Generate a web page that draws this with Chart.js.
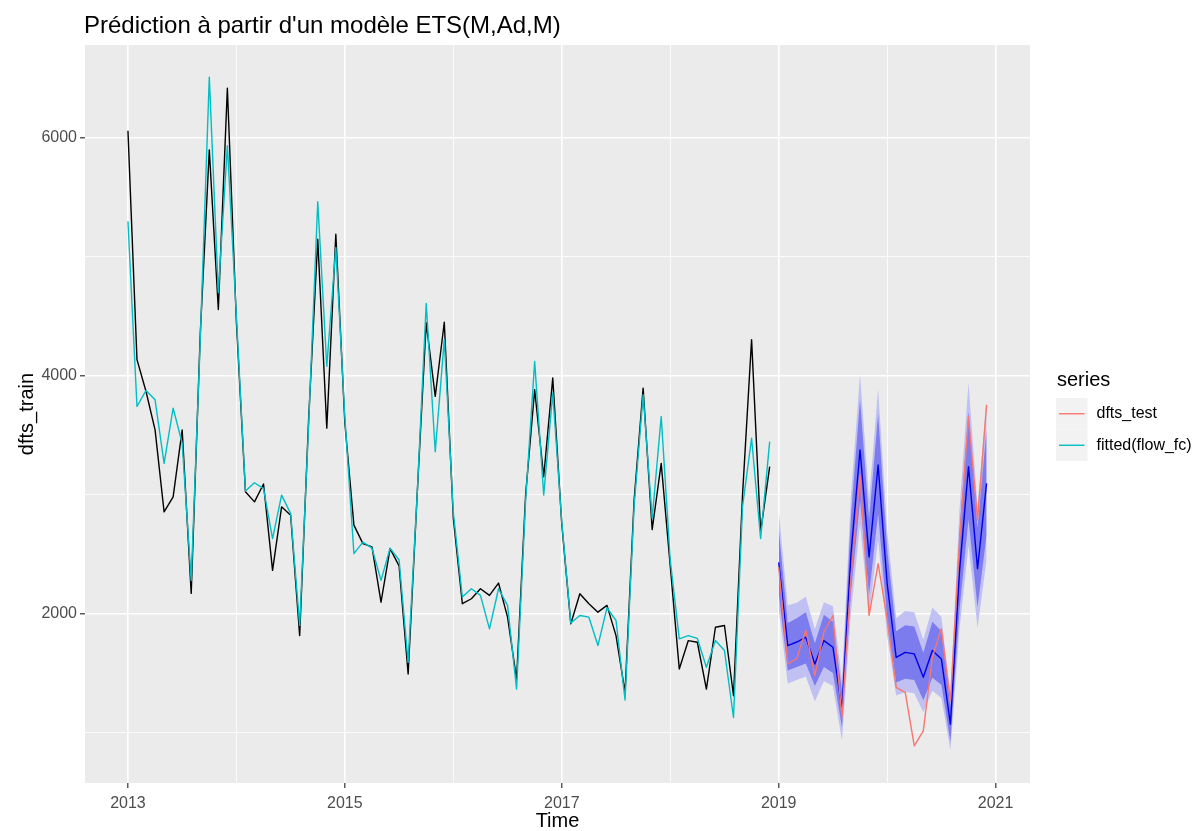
<!DOCTYPE html>
<html lang="fr">
<head>
<meta charset="utf-8">
<title>Prédiction ETS(M,Ad,M)</title>
<script src="https://cdn.jsdelivr.net/npm/chart.js@4.4.1/dist/chart.umd.min.js"></script>
<style>
  html, body { margin: 0; padding: 0; background: #ffffff; }
  #wrap { width: 1202px; height: 831px; }
</style>
</head>
<body>
<div id="wrap"><canvas id="chart" width="1202" height="831"></canvas></div>
<script>
// Monthly series, training period 2013-01 .. 2018-12
const trainStart = 2013;
const dftsTrain = [
  6060, 4135, 3867, 3544, 2855, 2981, 3544, 2169, 4350, 5900, 4557, 6419,
  4450, 3024, 2939, 3089, 2363, 2897, 2827, 1814, 3650, 5148, 3559, 5190,
  3600, 2743, 2588, 2560, 2095, 2546, 2400, 1491, 3000, 4445, 3826, 4450,
  2800, 2082, 2124, 2208, 2152, 2256, 1969, 1449, 3000, 3882, 3150, 3981,
  2750, 1913, 2166, 2082, 2011, 2068, 1814, 1336, 2950, 3896, 2706, 3263,
  2400, 1533, 1772, 1758, 1364, 1884, 1899, 1308, 3000, 4304, 2686, 3235
];
const fittedFlowFc = [
  5300, 3741, 3876, 3797, 3263, 3727, 3432, 2278, 4300, 6512, 4700, 5935,
  4500, 3030, 3100, 3050, 2630, 2996, 2840, 1900, 3600, 5463, 4079, 5078,
  3650, 2504, 2600, 2550, 2278, 2550, 2450, 1589, 3000, 4608, 3361, 4304,
  2850, 2138, 2208, 2152, 1871, 2208, 2068, 1364, 2950, 4121, 2996, 3854,
  2770, 1920, 1983, 1969, 1730, 2048, 1941, 1272, 2900, 3840, 2799, 3657,
  2450, 1786, 1814, 1790, 1547, 1772, 1688, 1125, 2900, 3474, 2630, 3446
];

// Test period 2019-01 .. 2020-12 and the ETS forecast over it
const testStart = 2019;
const dftsTest = [
  2390, 1575, 1620, 1860, 1477, 1842, 1983, 1125, 2300, 3165, 1983, 2419,
  1950, 1378, 1336,  886, 1013, 1631, 1871, 1266, 2600, 3657, 2785, 3755
];
const fcMean = [
  2430, 1730, 1760, 1800, 1575, 1772, 1716, 1195, 2500, 3376, 2475, 3249,
  2250, 1630, 1673, 1660, 1463, 1688, 1618, 1069, 2350, 3235, 2377, 3094
];
const fcLo80 = [
  2170, 1520, 1550, 1580, 1390, 1550, 1500, 1040, 2180, 2950, 2160, 2840,
  1960, 1420, 1450, 1440, 1270, 1460, 1400,  920, 2030, 2790, 2050, 2660
];
const fcHi80 = [
  2710, 1920, 1960, 2010, 1750, 1990, 1930, 1350, 2820, 3800, 2790, 3680,
  2540, 1850, 1900, 1890, 1670, 1930, 1850, 1220, 2690, 3700, 2720, 3550
];
const fcLo95 = [
  2040, 1410, 1440, 1470, 1260, 1430, 1390,  930, 2010, 2750, 1990, 2620,
  1810, 1310, 1340, 1330, 1170, 1350, 1290,  850, 1870, 2570, 1880, 2450
];
const fcHi95 = [
  2860, 2070, 2090, 2140, 1870, 2095, 2060, 1440, 3000, 4010, 2960, 3890,
  2700, 1960, 2020, 2010, 1780, 2050, 1970, 1310, 2870, 3940, 2900, 3790
];

// Axis ticks
const xTickValues = [2013, 2014, 2015, 2016, 2017, 2018, 2019, 2020, 2021];
const xTickLabels = [2013, 2015, 2017, 2019, 2021];
const yTickValues = [1000, 2000, 3000, 4000, 5000, 6000];
const yTickLabels = [2000, 4000, 6000];

const FONT = "'Liberation Sans', Arial, Helvetica, sans-serif";
const COL_TEST = '#F8766D';
const COL_FIT = '#00BFC4';

function monthly(start, values) {
  return values.map((v, i) => ({ x: start + i / 12, y: v }));
}

const plainLine = {
  pointRadius: 0,
  pointHoverRadius: 0,
  tension: 0,
  borderJoinStyle: 'round',
  borderCapStyle: 'butt'
};
const hiddenEdge = Object.assign({}, plainLine, {
  borderWidth: 0,
  borderColor: 'rgba(0,0,0,0)',
  fill: false
});

const panelBackground = {
  id: 'panelBackground',
  beforeDraw(chart) {
    const { ctx, chartArea: a } = chart;
    ctx.save();
    ctx.fillStyle = '#ffffff';
    ctx.fillRect(0, 0, chart.width, chart.height);
    ctx.fillStyle = '#EBEBEB';
    ctx.fillRect(a.left, a.top, a.right - a.left, a.bottom - a.top);
    ctx.restore();
  }
};

const headerAndLegend = {
  id: 'headerAndLegend',
  afterDraw(chart) {
    const { ctx, chartArea: a } = chart;
    ctx.save();
    // plot title
    ctx.fillStyle = '#000000';
    ctx.textAlign = 'left';
    ctx.textBaseline = 'middle';
    ctx.font = '24px ' + FONT;
    ctx.fillText("Prédiction à partir d'un modèle ETS(M,Ad,M)", a.left - 1, 26);

    // legend
    const lx = a.right + 26;
    ctx.font = '20px ' + FONT;
    ctx.fillText('series', lx + 1, 380);
    const items = [
      { label: 'dfts_test', color: COL_TEST },
      { label: 'fitted(flow_fc)', color: COL_FIT }
    ];
    const keySize = 31.5;
    const top = 398;
    items.forEach((it, i) => {
      const ky = top + i * keySize;
      ctx.fillStyle = '#F2F2F2';
      ctx.fillRect(lx, ky, keySize, keySize);
      ctx.strokeStyle = it.color;
      ctx.lineWidth = 1.4;
      ctx.beginPath();
      ctx.moveTo(lx + 3, ky + keySize / 2);
      ctx.lineTo(lx + keySize - 3, ky + keySize / 2);
      ctx.stroke();
      ctx.fillStyle = '#000000';
      ctx.font = '16px ' + FONT;
      ctx.fillText(it.label, lx + keySize + 9, ky + keySize / 2);
    });
    ctx.restore();
  }
};

const ctx = document.getElementById('chart').getContext('2d');
new Chart(ctx, {
  type: 'line',
  data: {
    datasets: [
      Object.assign({}, plainLine, {
        label: 'dfts_train', data: monthly(trainStart, dftsTrain),
        borderColor: '#000000', borderWidth: 1.4, fill: false, order: 6
      }),
      Object.assign({}, hiddenEdge, {
        label: 'lo95', data: monthly(testStart, fcLo95), order: 5
      }),
      Object.assign({}, hiddenEdge, {
        label: 'hi95', data: monthly(testStart, fcHi95), order: 5,
        fill: 1, backgroundColor: '#C0C0F3'
      }),
      Object.assign({}, hiddenEdge, {
        label: 'lo80', data: monthly(testStart, fcLo80), order: 4
      }),
      Object.assign({}, hiddenEdge, {
        label: 'hi80', data: monthly(testStart, fcHi80), order: 4,
        fill: 3, backgroundColor: '#7C7CEE'
      }),
      Object.assign({}, plainLine, {
        label: 'mean', data: monthly(testStart, fcMean),
        borderColor: '#0000E6', borderWidth: 1.4, fill: false, order: 3
      }),
      Object.assign({}, plainLine, {
        label: 'dfts_test', data: monthly(testStart, dftsTest),
        borderColor: COL_TEST, borderWidth: 1.4, fill: false, order: 2
      }),
      Object.assign({}, plainLine, {
        label: 'fitted(flow_fc)', data: monthly(trainStart, fittedFlowFc),
        borderColor: COL_FIT, borderWidth: 1.4, fill: false, order: 1
      })
    ]
  },
  options: {
    responsive: false,
    animation: false,
    events: [],
    layout: { padding: { top: 45, right: 172, left: 0, bottom: 0 } },
    plugins: {
      legend: { display: false },
      tooltip: { enabled: false },
      title: { display: false },
      filler: { propagate: false }
    },
    scales: {
      x: {
        type: 'linear',
        min: 2012.604,
        max: 2021.317,
        afterBuildTicks(scale) { scale.ticks = xTickValues.map(v => ({ value: v })); },
        afterFit(scale) { scale.height = 48; },
        border: { display: false },
        grid: {
          color: '#ffffff',
          lineWidth: c => (c.tick && xTickLabels.includes(c.tick.value)) ? 1.6 : 0.8,
          tickColor: c => (c.tick && xTickLabels.includes(c.tick.value)) ? '#333333' : 'rgba(0,0,0,0)',
          tickWidth: 1.2,
          tickLength: 5,
          drawTicks: true
        },
        ticks: {
          autoSkip: false,
          maxRotation: 0,
          padding: 6,
          color: '#4D4D4D',
          font: { family: FONT, size: 16 },
          callback: v => xTickLabels.includes(v) ? String(v) : ''
        },
        title: {
          display: true,
          text: 'Time',
          color: '#000000',
          font: { family: FONT, size: 20, lineHeight: 1 },
          padding: { top: 0, bottom: 0 }
        }
      },
      y: {
        type: 'linear',
        min: 574,
        max: 6782,
        afterBuildTicks(scale) { scale.ticks = yTickValues.map(v => ({ value: v })); },
        afterFit(scale) { scale.width = 85; },
        border: { display: false },
        grid: {
          color: '#ffffff',
          lineWidth: c => (c.tick && yTickLabels.includes(c.tick.value)) ? 1.6 : 0.8,
          tickColor: c => (c.tick && yTickLabels.includes(c.tick.value)) ? '#333333' : 'rgba(0,0,0,0)',
          tickWidth: 1.2,
          tickLength: 5,
          drawTicks: true
        },
        ticks: {
          autoSkip: false,
          padding: 3,
          color: '#4D4D4D',
          font: { family: FONT, size: 16 },
          callback: v => yTickLabels.includes(v) ? String(v) : ''
        },
        title: {
          display: true,
          text: 'dfts_train',
          color: '#000000',
          font: { family: FONT, size: 20, lineHeight: 1.2 },
          padding: { top: 15, bottom: 0 }
        }
      }
    }
  },
  plugins: [panelBackground, headerAndLegend]
});
</script>
</body>
</html>
